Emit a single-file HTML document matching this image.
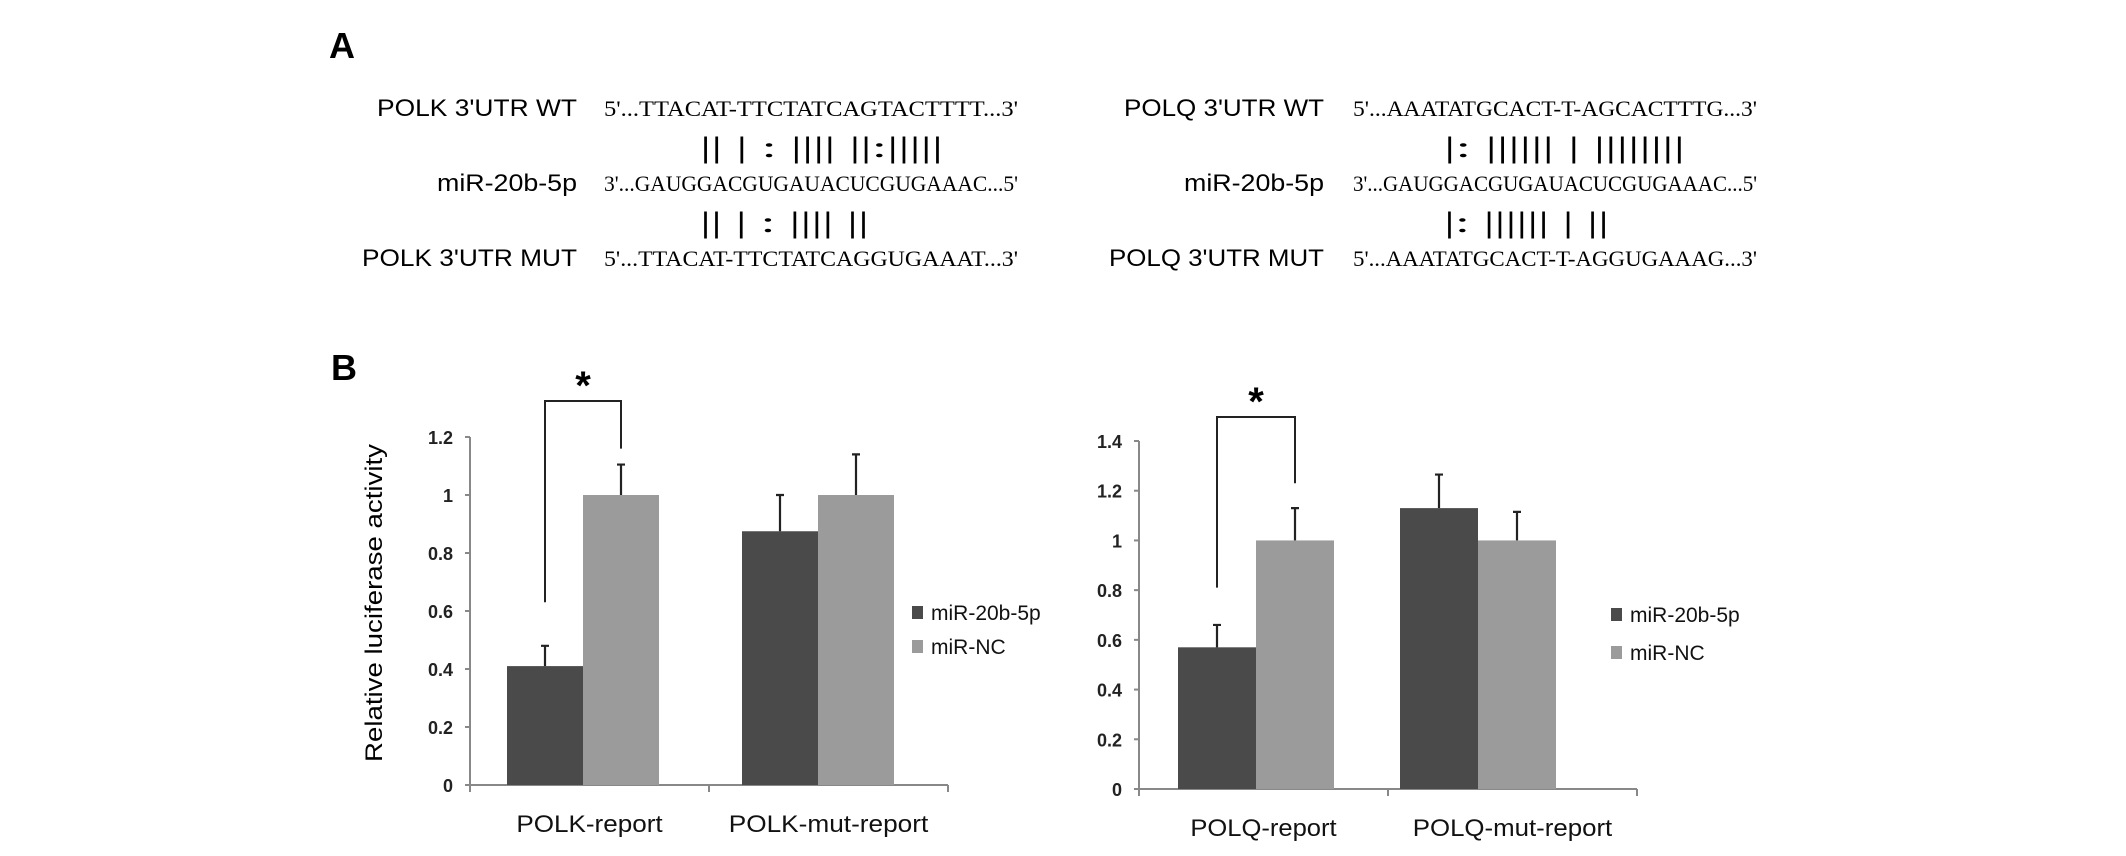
<!DOCTYPE html>
<html><head><meta charset="utf-8"><style>
html,body{margin:0;padding:0;background:#fff;overflow:hidden;}
svg{display:block;}
text{font-family:"Liberation Sans",Arial,sans-serif;}
.seq{font-family:"Liberation Serif",serif;}
</style></head><body>
<svg id="fig" width="2126" height="856" viewBox="0 0 2126 856" xmlns="http://www.w3.org/2000/svg">
<text x="329" y="58" font-family="Liberation Serif,serif" font-weight="bold" font-size="36">A</text>
<g>
<text x="577" y="116" text-anchor="end" font-size="24" textLength="200" lengthAdjust="spacingAndGlyphs">POLK 3'UTR WT</text>
<text class="seq" x="604" y="116" font-size="22" textLength="414" lengthAdjust="spacingAndGlyphs">5'...TTACAT-TTCTATCAGTACTTTT...3'</text>
<text class="seq" x="700" y="157" font-size="30" textLength="243" lengthAdjust="spacingAndGlyphs">|| | : |||| ||:|||||</text>
<text x="577" y="191" text-anchor="end" font-size="24" textLength="140" lengthAdjust="spacingAndGlyphs">miR-20b-5p</text>
<text class="seq" x="604" y="191" font-size="22" textLength="414" lengthAdjust="spacingAndGlyphs">3'...GAUGGACGUGAUACUCGUGAAAC...5'</text>
<text class="seq" x="700" y="232" font-size="30" textLength="169" lengthAdjust="spacingAndGlyphs">|| | : |||| ||</text>
<text x="577" y="266" text-anchor="end" font-size="24" textLength="215" lengthAdjust="spacingAndGlyphs">POLK 3'UTR MUT</text>
<text class="seq" x="604" y="266" font-size="22" textLength="414" lengthAdjust="spacingAndGlyphs">5'...TTACAT-TTCTATCAGGUGAAAT...3'</text>
</g>
<g>
<text x="1324" y="116" text-anchor="end" font-size="24" textLength="200" lengthAdjust="spacingAndGlyphs">POLQ 3'UTR WT</text>
<text class="seq" x="1353" y="116" font-size="22" textLength="404" lengthAdjust="spacingAndGlyphs">5'...AAATATGCACT-T-AGCACTTTG...3'</text>
<text class="seq" x="1444" y="157" font-size="30" textLength="241" lengthAdjust="spacingAndGlyphs">|: |||||| | ||||||||</text>
<text x="1324" y="191" text-anchor="end" font-size="24" textLength="140" lengthAdjust="spacingAndGlyphs">miR-20b-5p</text>
<text class="seq" x="1353" y="191" font-size="22" textLength="404" lengthAdjust="spacingAndGlyphs">3'...GAUGGACGUGAUACUCGUGAAAC...5'</text>
<text class="seq" x="1444" y="232" font-size="30" textLength="165" lengthAdjust="spacingAndGlyphs">|: |||||| | ||</text>
<text x="1324" y="266" text-anchor="end" font-size="24" textLength="215" lengthAdjust="spacingAndGlyphs">POLQ 3'UTR MUT</text>
<text class="seq" x="1353" y="266" font-size="22" textLength="404" lengthAdjust="spacingAndGlyphs">5'...AAATATGCACT-T-AGGUGAAAG...3'</text>
</g>
<text x="331" y="380" font-family="Liberation Serif,serif" font-weight="bold" font-size="36">B</text>
<text transform="translate(382,603) rotate(-90)" text-anchor="middle" font-size="24" textLength="318" lengthAdjust="spacingAndGlyphs">Relative luciferase activity</text>
<g id="c1"></g>
<g id="c2"></g>
</svg>
<script>
var polkCategories = ["POLK-report", "POLK-mut-report"];
var polkMiR = [0.41, 0.875];
var polkNC = [1.0, 1.0];
var polkMiRErr = [0.07, 0.125];
var polkNCErr = [0.105, 0.14];
var polkTicks = ["0", "0.2", "0.4", "0.6", "0.8", "1", "1.2"];
var polqCategories = ["POLQ-report", "POLQ-mut-report"];
var polqMiR = [0.57, 1.13];
var polqNC = [1.0, 1.0];
var polqMiRErr = [0.09, 0.135];
var polqNCErr = [0.13, 0.115];
var polqTicks = ["0", "0.2", "0.4", "0.6", "0.8", "1", "1.2", "1.4"];
var seriesNames = ["miR-20b-5p", "miR-NC"];
var NS = "http://www.w3.org/2000/svg";
function mk(p, tag, a) { var e = document.createElementNS(NS, tag); for (var k in a) e.setAttribute(k, a[k]); p.appendChild(e); return e; }
function chart(g, o) {
  var ymax = parseFloat(o.ticks[o.ticks.length - 1]);
  function y(v) { return o.y0 - (v / ymax) * (o.y0 - o.yTop); }
  var groupW = (o.xR - o.x0) / o.cats.length;
  function gx(i) { return o.x0 + groupW * (i + 0.5); }
  function bc(i) { return gx(i) + o.shift[i]; }
  var bw = o.bw;
  var ax = mk(g, "line", {x1: o.x0, y1: o.yTop, x2: o.x0, y2: o.y0, stroke: "#888", "stroke-width": 2});
  
  
  var xa = mk(g, "line", {x1: o.x0, y1: o.y0, x2: o.xR, y2: o.y0, stroke: "#888", "stroke-width": 2});
  
  
  for (var i = 0; i <= o.cats.length; i++) {
    var tx = o.x0 + groupW * i;
    mk(g, "line", {x1: tx, y1: o.y0, x2: tx, y2: o.y0 + 7, stroke: "#888", "stroke-width": 2});
  }
  o.ticks.forEach(function (t) {
    var v = parseFloat(t), yy = y(v);
    mk(g, "line", {x1: o.x0 - 5, y1: yy, x2: o.x0, y2: yy, stroke: "#888", "stroke-width": 2});
    var tl = mk(g, "text", {x: o.x0 - 17, y: yy + 7, "text-anchor": "end", "font-size": 18, "font-weight": "bold", fill: "#222"});
    tl.textContent = t;
    
    
  });
  o.cats.forEach(function (c, i) {
    var cx = bc(i);
    [[o.a, o.ae, "#4a4a4a", -1], [o.b, o.be, "#9b9b9b", 0]].forEach(function (s, k) {
      var bx = cx + s[3] * bw, v = s[0][i];
      var r = mk(g, "rect", {x: bx, y: y(v), width: bw, height: o.y0 - y(v), fill: s[2]});
      
      
      var mx = bx + bw / 2, top = y(v + s[1][i]);
      var e = mk(g, "path", {d: "M" + mx + " " + y(v) + "V" + top + "M" + (mx - 4) + " " + top + "H" + (mx + 4), stroke: "#222", "stroke-width": 2.2, fill: "none"});
      
      
    });
    var label = mk(g, "text", {x: gx(i), y: o.y0 + 47, "text-anchor": "middle", "font-size": 24, fill: "#111"});
    label.textContent = c;
    label.setAttribute('textLength', c.length * 13.3);
    label.setAttribute('lengthAdjust', 'spacingAndGlyphs');
    
    
  });
  var lx = bc(0) - bw / 2, rx = bc(0) + bw / 2;
  var br = mk(g, "path", {d: "M" + lx + " " + y(o.bl) + "V" + o.brY + "H" + rx + "V" + y(o.br), stroke: "#222", "stroke-width": 2, fill: "none"});
  
  
  var st = mk(g, "text", {x: bc(0), y: o.brY - 2, "text-anchor": "middle", "font-size": 40, "font-weight": "bold"});
  st.textContent = "*";
  
  
  seriesNames.forEach(function (n, k) {
    var ly = o.legY + k * o.legGap;
    var sq = mk(g, "rect", {x: o.legX, y: ly - 6, width: 11, height: 13, fill: k ? "#9b9b9b" : "#4a4a4a"});
    
    
    var lt = mk(g, "text", {x: o.legX + 19, y: ly + 8, "font-size": 21, fill: "#111"});
    lt.textContent = n;
    
    
  });
}
chart(document.getElementById("c1"), {cats: polkCategories, a: polkMiR, b: polkNC, ae: polkMiRErr, be: polkNCErr, ticks: polkTicks,
  x0: 470, xR: 948, y0: 785, yTop: 437, bw: 76, shift: [-6.5, -10.5], bl: 0.63, br: 1.16, brY: 401, legX: 912, legY: 612, legGap: 34});
chart(document.getElementById("c2"), {cats: polqCategories, a: polqMiR, b: polqNC, ae: polqMiRErr, be: polqNCErr, ticks: polqTicks,
  x0: 1139, xR: 1637, y0: 789, yTop: 441, bw: 78, shift: [-7.5, -34.5], bl: 0.81, br: 1.23, brY: 417, legX: 1611, legY: 614, legGap: 38});
</script>
</body></html>
